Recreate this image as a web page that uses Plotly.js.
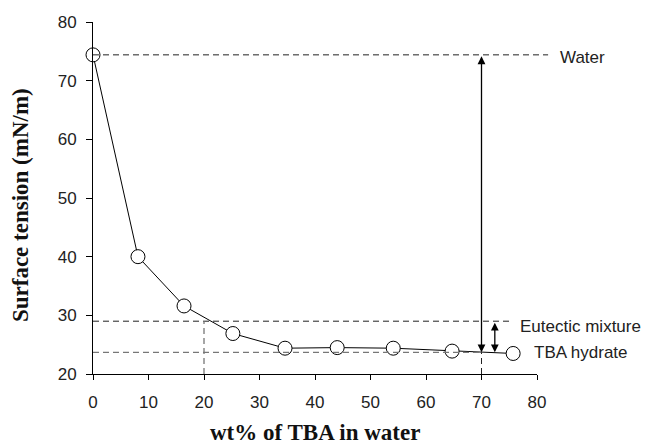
<!DOCTYPE html>
<html><head><meta charset="utf-8">
<script src="https://cdn.plot.ly/plotly-3.0.1.min.js"></script>
<style>body{margin:0;background:#fff}#c{width:650px;height:446px}</style>
</head><body><div id="c"></div>
<script>
const wtPercent = [0, 8.1, 16.4, 25.2, 34.6, 44.0, 54.1, 64.7, 75.7];
const surfaceTension = [74.4, 40.0, 31.6, 26.9, 24.4, 24.5, 24.4, 23.9, 23.5];
const xTicks = [0, 10, 20, 30, 40, 50, 60, 70, 80];
const yTicks = [20, 30, 40, 50, 60, 70, 80];
const levelWater = 74.4, levelEutectic = 29.0, levelHydrate = 23.7;
const xEutectic = 20, xHydrate = 70;

const trace = {
  x: wtPercent, y: surfaceTension, type: 'scatter', mode: 'lines+markers',
  line: {color: '#000', width: 1},
  marker: {symbol: 'circle', size: 14, color: '#fff', line: {color: '#000', width: 1}},
  cliponaxis: false, showlegend: false
};
const dash = '6px,4px';
const titleFont = {family: 'Liberation Serif, Times New Roman, serif', size: 23, color: '#111', weight: 'bold'};
const labelFont = {family: 'Liberation Sans, Arial, sans-serif', size: 17, color: '#222'};
const layout = {
  width: 650, height: 446,
  margin: {l: 93, r: 113, t: 22, b: 72},
  paper_bgcolor: '#fff', plot_bgcolor: '#fff',
  font: {family: 'Liberation Sans, Arial, sans-serif', size: 17, color: '#222'},
  xaxis: {range: [0, 80], tickvals: xTicks, ticks: 'outside', ticklen: 5, tickwidth: 1, tickcolor: '#000',
    ticklabelstandoff: 8,
    showline: true, linecolor: '#000', linewidth: 1, showgrid: false, zeroline: false},
  yaxis: {range: [20, 80], tickvals: yTicks, ticks: 'outside', ticklen: 6, tickwidth: 1, tickcolor: '#000',
    ticklabelstandoff: 6,
    showline: true, linecolor: '#000', linewidth: 1, showgrid: false, zeroline: false},
  shapes: [
    {type: 'line', xref: 'paper', yref: 'y', x0: 0, x1: 82/80, y0: levelWater, y1: levelWater, line: {color: '#222', width: 1, dash: dash}},
    {type: 'line', xref: 'x', yref: 'y', x0: 0, x1: 75.3, y0: levelEutectic, y1: levelEutectic, line: {color: '#222', width: 1, dash: dash}},
    {type: 'line', xref: 'x', yref: 'y', x0: 0, x1: 70, y0: levelHydrate, y1: levelHydrate, line: {color: '#777', width: 1.3, dash: dash}},
    {type: 'line', xref: 'x', yref: 'y', x0: xEutectic, x1: xEutectic, y0: 20, y1: levelEutectic, line: {color: '#777', width: 1.3, dash: dash}},
    {type: 'line', xref: 'x', yref: 'y', x0: xHydrate, x1: xHydrate, y0: 20, y1: levelHydrate, line: {color: '#222', width: 1, dash: dash}}
  ],
  annotations: [
    {x: xHydrate, y: levelHydrate, ax: xHydrate, ay: levelWater, xref: 'x', yref: 'y', axref: 'x', ayref: 'y',
      text: '', showarrow: true, arrowhead: 2, startarrowhead: 2, arrowside: 'end+start', arrowsize: 1.2, startarrowsize: 1.2, arrowwidth: 1.3, arrowcolor: '#000'},
    {x: 72.4, y: levelHydrate, ax: 72.4, ay: levelEutectic, xref: 'x', yref: 'y', axref: 'x', ayref: 'y',
      text: '', showarrow: true, arrowhead: 2, startarrowhead: 2, arrowside: 'end+start', arrowsize: 1.2, startarrowsize: 1.2, arrowwidth: 1.3, arrowcolor: '#000'},
    {x: 1.047, y: levelWater, xref: 'paper', yref: 'y', text: 'Water', showarrow: false, xanchor: 'left', yanchor: 'middle', yshift: -3, font: labelFont},
    {x: 0.957, y: levelEutectic, xref: 'paper', yref: 'y', text: 'Eutectic mixture', showarrow: false, xanchor: 'left', yanchor: 'middle', yshift: -5, font: labelFont},
    {x: 0.989, y: levelHydrate, xref: 'paper', yref: 'y', text: 'TBA hydrate', showarrow: false, xanchor: 'left', yanchor: 'middle', yshift: 0, font: labelFont},
    {x: 0.5, y: 0, xref: 'paper', yref: 'paper', text: 'wt% of TBA in water', showarrow: false, xanchor: 'center', yanchor: 'top', yshift: -44, font: titleFont},
    {x: 0, y: 0.48, xref: 'paper', yref: 'paper', text: 'Surface tension (mN/m)', showarrow: false, textangle: -90, xanchor: 'center', yanchor: 'middle', xshift: -73, font: titleFont}
  ]
};
Plotly.newPlot('c', [trace], layout, {displayModeBar: false, staticPlot: true});
</script>
</body></html>
